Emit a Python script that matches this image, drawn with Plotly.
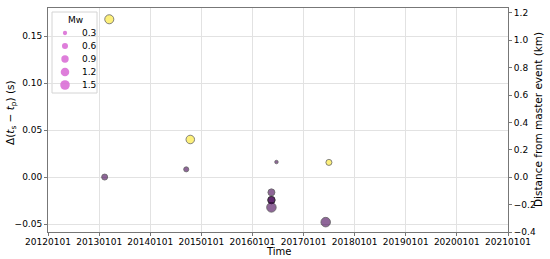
import plotly.graph_objects as go

# Event times, delta (ts - tp) in seconds, magnitude and colour value
event_dates = ["2013-03-14", "2013-02-09", "2014-10-14", "2014-09-15",
               "2016-06-21", "2017-07-01", "2016-05-16", "2016-05-16",
               "2016-05-16", "2016-05-16", "2017-06-08"]
delta_ts_tp = [0.168, 0.000, 0.040, 0.0082,
               0.016, 0.0156, -0.0163, -0.0245,
               -0.0245, -0.0323, -0.048]
mw = [1.35, 0.6, 1.2, 0.42,
      0.2, 0.6, 0.81, 0.93,
      0.85, 1.5, 1.5]
color_value = [1, 0, 1, 0,
               0, 1, 0, 0,
               0, 0, 0]

legend_mw = [0.3, 0.6, 0.9, 1.2, 1.5]

x_ticks = ["2012-01-01", "2013-01-01", "2014-01-01", "2015-01-01", "2016-01-01",
           "2017-01-01", "2018-01-01", "2019-01-01", "2020-01-01", "2021-01-01"]

# plot area in pixels (left, right, top, bottom)
L, R, T, B = 48, 508, 8, 232
W, H = R - L, B - T


def px_x(p):
    return (p - L) / W


def px_y(p):
    return 1 - (p - T) / H


def marker_diameter(m):
    # matplotlib scatter sizes are areas, so diameter goes with sqrt(Mw)
    return 7.8 * m ** 0.5


font = "DejaVu Sans"
fig = go.Figure()

fig.add_trace(go.Scatter(
    x=event_dates, y=delta_ts_tp, mode="markers", showlegend=False,
    marker=dict(size=[marker_diameter(m) for m in mw], color=color_value,
                colorscale="Viridis", cmin=0, cmax=1, opacity=0.6,
                line=dict(color="black", width=0.8)),
))

# empty trace so the right-hand distance axis is drawn
fig.add_trace(go.Scatter(x=[None], y=[None], yaxis="y2", showlegend=False))

# size legend drawn by hand (plotly's own legend rows are too tall)
fig.add_trace(go.Scatter(
    x=[17] * len(legend_mw), y=[25 + 13 * i for i in range(len(legend_mw))],
    xaxis="x3", yaxis="y3", mode="markers", showlegend=False, hoverinfo="skip",
    marker=dict(size=[marker_diameter(m) for m in legend_mw], color="#da70d6",
                opacity=0.9, line=dict(width=0)),
))

annotations = []
for i, m in enumerate(legend_mw):
    annotations.append(dict(x=px_x(80), y=px_y(33 + 13 * i), xref="paper", yref="paper",
                            text=f"{m}", showarrow=False, xanchor="left", yanchor="middle",
                            font=dict(size=9)))
annotations.append(dict(x=px_x(75), y=px_y(20), xref="paper", yref="paper", text="Mw",
                        showarrow=False, xanchor="center", yanchor="middle", font=dict(size=9)))
annotations.append(dict(x=0.5, y=px_y(251.5), xref="paper", yref="paper", text="Time",
                        showarrow=False, xanchor="center", yanchor="middle", font=dict(size=10)))
annotations.append(dict(x=px_x(11), y=px_y(113), xref="paper", yref="paper",
                        text="Δ(<i>t</i><sub>s</sub> − <i>t</i><sub>p</sub>) (s)", textangle=-90,
                        showarrow=False, xanchor="center", yanchor="middle", font=dict(size=10.5)))
annotations.append(dict(x=px_x(538), y=0.5, xref="paper", yref="paper",
                        text="Distance from master event (km)", textangle=-90,
                        showarrow=False, xanchor="center", yanchor="middle", font=dict(size=10.5)))

axis_common = dict(showline=True, linecolor="#777", mirror=True, zeroline=False,
                   ticks="outside", ticklen=3, tickcolor="#777",
                   showgrid=True, gridcolor="#e2e2e2", gridwidth=1)

fig.update_layout(
    width=550, height=259,
    margin=dict(l=L, r=550 - R, t=T, b=259 - B),
    paper_bgcolor="white", plot_bgcolor="white",
    font=dict(family=font, size=9, color="black"),
    showlegend=False,
    xaxis=dict(type="date", range=["2012-01-01", "2021-01-01"],
               tickvals=x_ticks, tickformat="%Y%m%d", ticklabelstandoff=-2, **axis_common),
    yaxis=dict(range=[-0.0585, 0.18], tickvals=[-0.05, 0.0, 0.05, 0.10, 0.15],
               tickformat=".2f", **axis_common),
    yaxis2=dict(overlaying="y", side="right", range=[-0.4, 1.236],
                tickvals=[-0.4, -0.2, 0.0, 0.2, 0.4, 0.6, 0.8, 1.0, 1.2], tickformat=".1f",
                showgrid=False, zeroline=False, ticks="outside", ticklen=3, tickcolor="#777"),
    xaxis3=dict(overlaying="x", range=[0, W], visible=False, fixedrange=True),
    yaxis3=dict(overlaying="y", anchor="x3", range=[H, 0], visible=False, fixedrange=True),
    shapes=[dict(type="rect", xref="paper", yref="paper",
                 x0=px_x(52), x1=px_x(97), y0=px_y(93), y1=px_y(12),
                 line=dict(color="#d4d4d4", width=1), fillcolor="rgba(255,255,255,0.8)",
                 layer="below")],
    annotations=annotations,
)

# the page body has a default 8px margin; drop it so the figure sits at the corner
fig.write_html("out.html", config={"displayModeBar": False},
               post_script="document.body.style.margin = '0';")
